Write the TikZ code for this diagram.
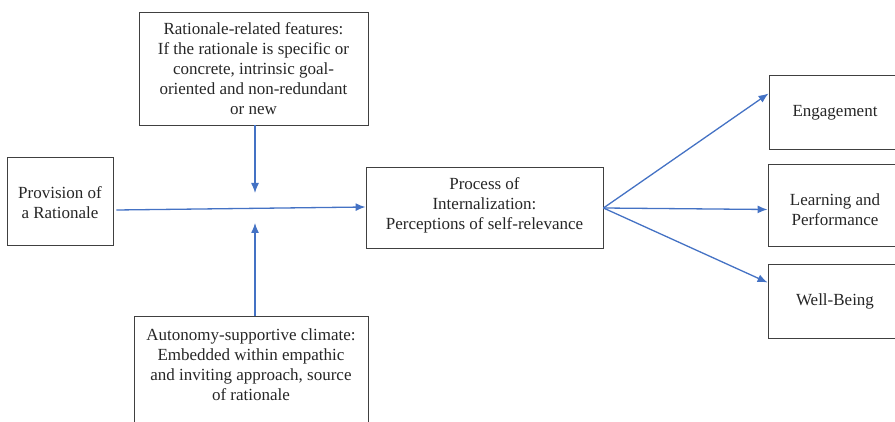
\documentclass[tikz,border=0pt]{standalone}
\usepackage{fontspec}
\setmainfont{Liberation Serif}
\usetikzlibrary{positioning,arrows.meta}
\definecolor{linkblue}{RGB}{68,114,196}
\definecolor{boxgray}{RGB}{64,64,64}

\begin{document}
\begin{tikzpicture}[x=1pt,y=-1pt,node distance=94pt,on grid,
    box/.style={draw=boxgray,line width=0.9pt,align=center,text=black!85,
      font=\fontsize{17}{20}\selectfont,inner sep=0pt},
    plain/.style={align=center,text=black!85,font=\fontsize{17}{20}\selectfont,inner sep=0pt},
    link/.style={linkblue,line width=1.3pt,-{Latex[length=10pt,width=8pt]}}]
  \clip (0,0) rectangle (895,422);
  \node[box,minimum width=106pt,minimum height=88pt] (prov) at (60,201)
    {\rule{0pt}{15.5pt}Provision of\\a Rationale};
  \node[box,minimum width=229pt,minimum height=113pt] (feat) at (253.5,68.5)
    {Rationale-related features:\\If the rationale is specific or\\concrete, intrinsic goal-\\oriented and non-redundant\\or new};
  \node[box,minimum width=234pt,minimum height=130pt,anchor=north] (clim) at (251,316) {};
  \node[plain,anchor=north] (climtext) at ([yshift=-12.5pt]clim.north)
    {Autonomy-supportive climate:\\Embedded within empathic\\and inviting approach, source\\of rationale};
  \node[box,minimum width=237pt,minimum height=81pt] (proc) at (484.5,208)
    {Process of\\Internalization:\\Perceptions of self-relevance\rule[-9.7pt]{0pt}{9.7pt}};
  \node[box,minimum width=132pt,minimum height=74pt] (eng) at (835,112.5) {Engagement};
  \node[box,minimum width=134pt,minimum height=82pt] (learn) [below=93pt of eng]
    {\rule{0pt}{19.5pt}Learning and\\Performance};
  \node[box,minimum width=134pt,minimum height=74pt] (well) [below=96pt of learn] {Well-Being};
  \coordinate (top) at (255,193);
  \coordinate (bot) at (255,223);
  \path[link]
    ([xshift=3pt,yshift=-9pt]prov.east) edge ([yshift=1pt]proc.west)
    (top |- feat.south) edge (top)
    (bot |- clim.north) edge (bot)
    (proc.east) edge ([yshift=19pt]eng.west)
    (proc.east) edge ([yshift=-4pt]learn.west)
    (proc.east) edge ([yshift=19pt]well.west);
\end{tikzpicture}
\end{document}
